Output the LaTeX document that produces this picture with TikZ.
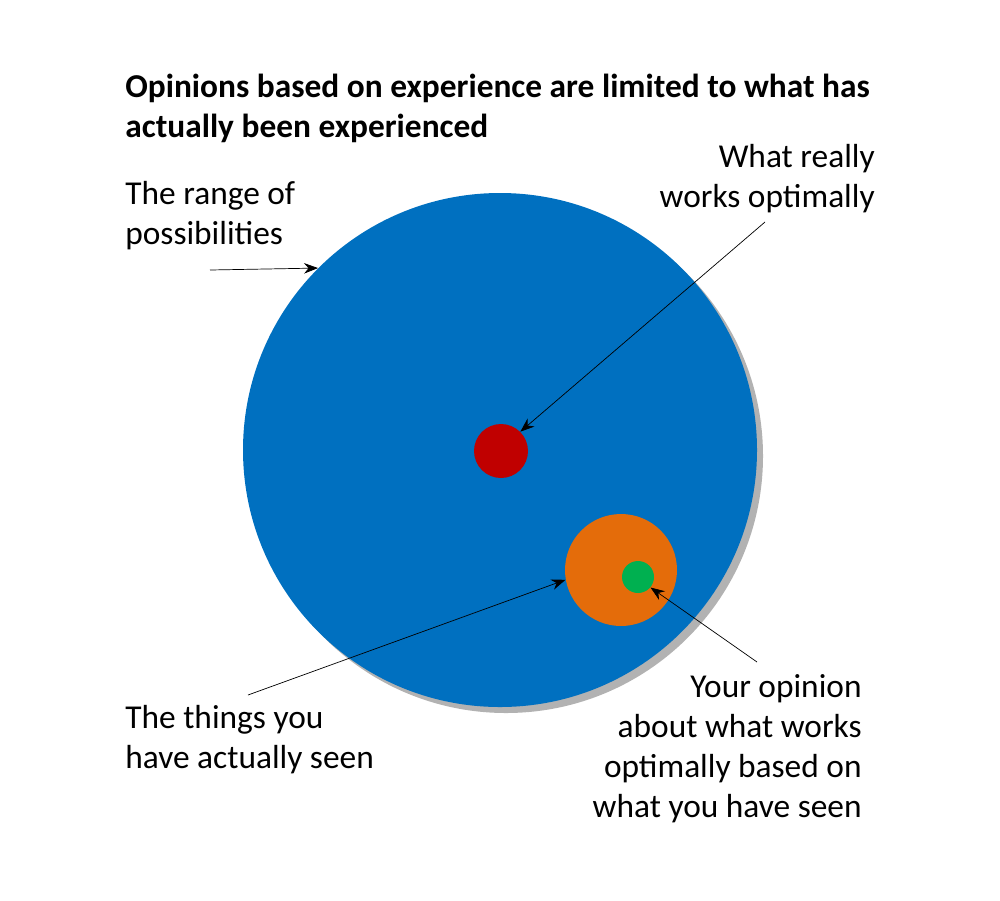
\documentclass[tikz,border=0pt]{standalone}
\usepackage{fontspec}
\setmainfont{Carlito}
\usetikzlibrary{arrows.meta}
\begin{document}
\begin{tikzpicture}[x=0.02cm, y=-0.02cm,
  lbl/.style={inner sep=0pt, font=\fontsize{19}{22.7}\selectfont},
  ptr/.style={-{Stealth[length=8pt,width=6pt]}, thin}]

  \useasboundingbox (0,0) rectangle (1000,900);

  %circles
  \fill[gray!60] (506,456) circle (257);
  \fill[blue!55!black!80!cyan, fill={rgb,255:red,0;green,112;blue,192}] (500,450) circle (257);
  \node[circle, fill={rgb,255:red,192;green,0;blue,0}, minimum size=54\pgflinewidth, inner sep=0pt, minimum size=1.08cm] (red) at (501,451) {};
  \node[circle, fill={rgb,255:red,228;green,108;blue,10}, inner sep=0pt, minimum size=2.24cm] (orange) at (621,570) {};
  \node[circle, fill={rgb,255:red,0;green,176;blue,80}, inner sep=0pt, minimum size=0.64cm] (green) at (638,577) {};
  \node[circle, inner sep=0pt, minimum size=10.28cm] (big) at (500,450) {};

  %labels
  \node[lbl, anchor=west, align=left, font=\fontsize{19}{22.7}\selectfont\bfseries] (title) at (125,108)
    {Opinions based on experience are limited to what has\\actually been experienced};
  \node[lbl, anchor=west, align=left] (range) at (125,216) {The range of\\possibilities};
  \node[lbl, anchor=east, align=right] (works) at (875,179) {What really\\works optimally};
  \node[lbl, anchor=west, align=left] (seen) at (125,740) {The things you\\have actually seen};
  \node[lbl, anchor=east, align=right] (yours) at (862,749)
    {Your opinion\\about what works\\optimally based on\\what you have seen};

  %arrows
  \coordinate (a1) at (210,270);
  \coordinate (a2) at (765,222);
  \coordinate (a3) at (248,695);
  \coordinate (a4) at (757,662);
  \draw[ptr] (a1) -- (big.135);
  \draw[ptr] (a2) -- (red.45);
  \draw[ptr] (a3) -- (orange.190);
  \draw[ptr] (a4) -- (green.-40);

\end{tikzpicture}
\end{document}
